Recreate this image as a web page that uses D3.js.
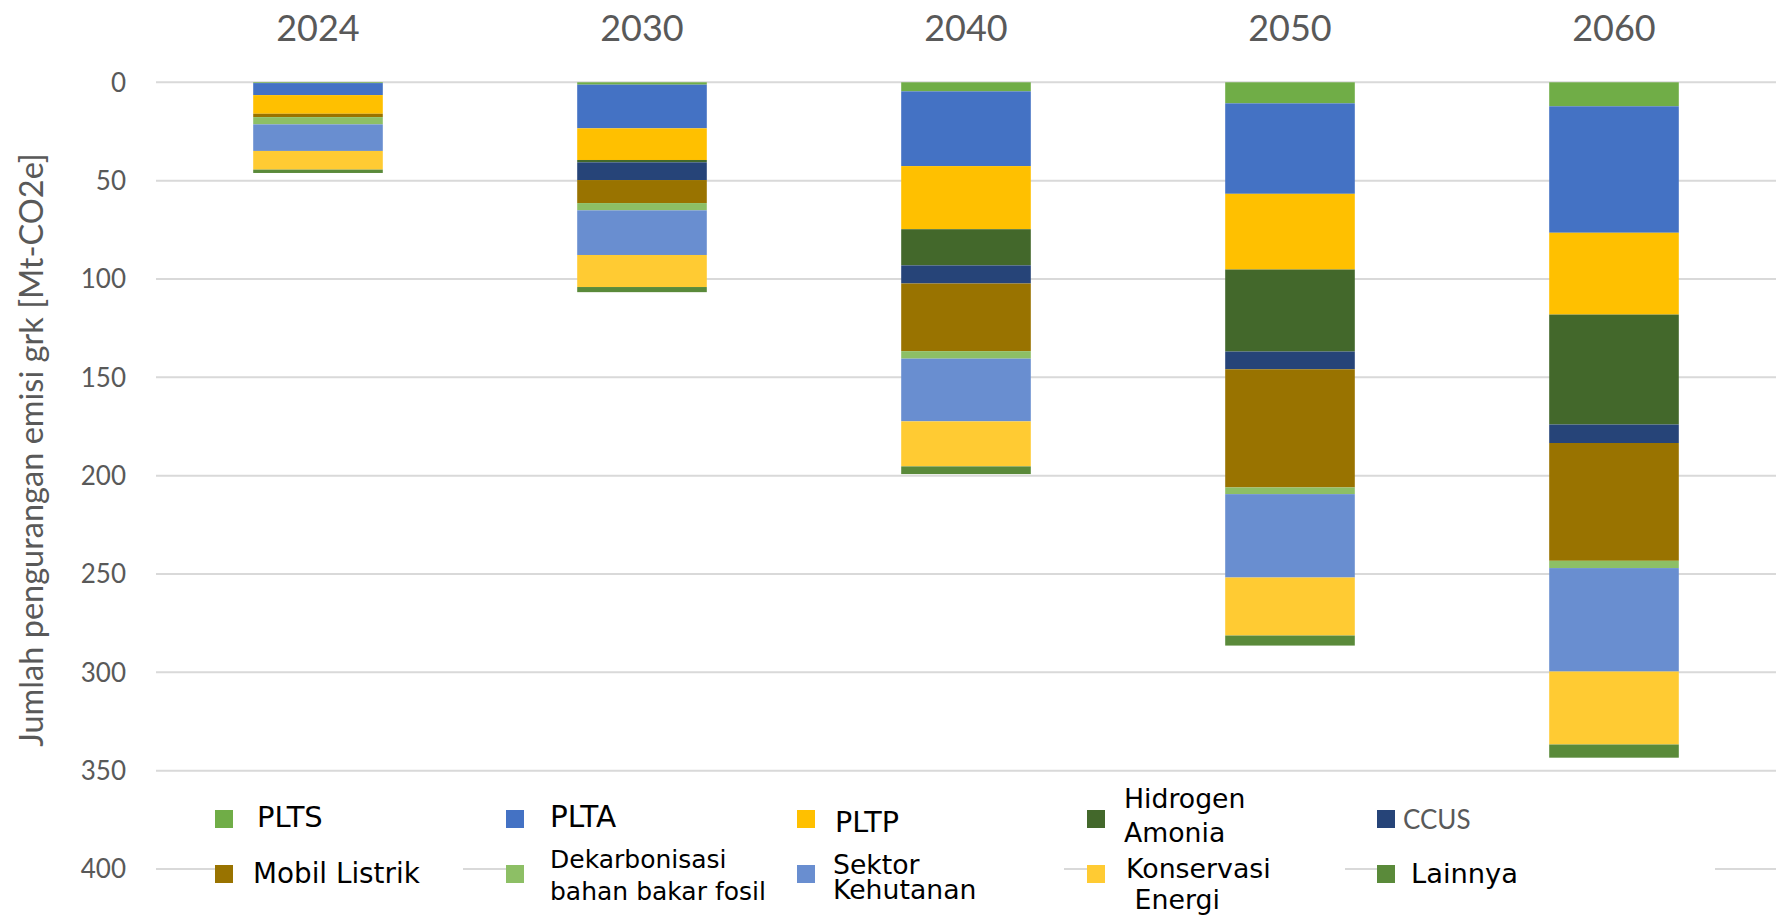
<!DOCTYPE html>
<html>
<head>
<meta charset="utf-8">
<script src="https://cdn.jsdelivr.net/npm/d3@7"></script>
<style>
  html, body { margin: 0; padding: 0; background: #ffffff; }
  svg { display: block; }
</style>
</head>
<body>
<svg id="chart" width="1781" height="915"></svg>
<script>
// ---------------- DATA ----------------
const years = ["2024", "2030", "2040", "2050", "2060"];
const seriesKeys = ["PLTS", "PLTA", "PLTP", "Hidrogen Amonia", "CCUS", "Mobil Listrik",
  "Dekarbonisasi bahan bakar fosil", "Sektor Kehutanan", "Konservasi Energi", "Lainnya"];
const plts          = [0.4, 1.2, 4.6, 10.7, 12.2];
const plta          = [6.1, 22.2, 38.0, 46.0, 64.3];
const pltp          = [9.5, 16.1, 32.1, 38.5, 41.6];
const hidrogen      = [0.0, 1.2, 18.4, 41.7, 55.9];
const ccus          = [0.0, 9.0, 9.2, 9.0, 9.4];
const mobilListrik  = [1.7, 11.7, 34.4, 60.1, 59.9];
const dekarbonisasi = [3.7, 3.7, 3.8, 3.4, 3.7];
const kehutanan     = [13.5, 22.7, 31.9, 42.4, 52.6];
const konservasi    = [9.5, 16.3, 22.9, 29.5, 37.1];
const lainnya       = [1.7, 2.6, 3.9, 5.1, 6.7];
const yTicks = [0, 50, 100, 150, 200, 250, 300, 350, 400];
const yTitle = "Jumlah pengurangan emisi grk [Mt-CO2e]";
const legendLines = [
  ["PLTS"], ["PLTA"], ["PLTP"], ["Hidrogen", "Amonia"], ["CCUS"],
  ["Mobil Listrik"], ["Dekarbonisasi", "bahan bakar fosil"], ["Sektor", "Kehutanan"],
  ["Konservasi", " Energi"], ["Lainnya"]
];

// ---------------- STYLE ----------------
const colors = ["#70AD47", "#4472C4", "#FFC000", "#43682B", "#264478", "#997300",
  "#8DBF65", "#698ED0", "#FFCB33", "#5A8A3A"];
const seriesValues = [plts, plta, pltp, hidrogen, ccus, mobilListrik, dekarbonisasi, kehutanan, konservasi, lainnya];

const rows = years.map((yr, i) => {
  const o = { year: yr };
  seriesKeys.forEach((k, j) => { o[k] = seriesValues[j][i]; });
  return o;
});

const svg = d3.select("#chart");
const gray = "#595959";
const axisFont = "Lato, 'Open Sans', sans-serif";
const legendFont = "'DejaVu Sans', Verdana, sans-serif";

const x = d3.scaleBand().domain(years).range([156, 1776]).paddingInner(0.6).paddingOuter(0.3);
const y = d3.scaleLinear().domain([0, 400]).range([82.3, 869]);

// gridlines
svg.append("g").selectAll("line").data(yTicks).join("line")
  .attr("x1", 156).attr("x2", 1776)
  .attr("y1", d => y(d)).attr("y2", d => y(d))
  .attr("stroke", "#D9D9D9").attr("stroke-width", 2);

// y tick labels
svg.append("g").selectAll("text").data(yTicks).join("text")
  .attr("x", 126).attr("y", d => y(d)).attr("dy", "0.36em")
  .attr("text-anchor", "end")
  .attr("font-family", axisFont).attr("font-size", 26)
  .attr("fill", gray).text(d => d);

// year labels (category axis on top)
svg.append("g").selectAll("text").data(years).join("text")
  .attr("x", d => x(d) + x.bandwidth() / 2).attr("y", 41)
  .attr("text-anchor", "middle")
  .attr("font-family", axisFont).attr("font-size", 36)
  .attr("fill", gray).text(d => d);

// stacked bars
const stack = d3.stack().keys(seriesKeys)(rows);
svg.append("g").selectAll("g").data(stack).join("g")
  .attr("fill", (d, i) => colors[i])
  .selectAll("rect").data(d => d).join("rect")
  .attr("x", d => x(d.data.year))
  .attr("width", x.bandwidth())
  .attr("y", d => y(d[0]))
  .attr("height", d => Math.max(0, y(d[1]) - y(d[0])));

// y title
const title = svg.append("text")
  .attr("font-family", axisFont).attr("font-size", 31)
  .attr("fill", gray).attr("text-anchor", "middle")
  .attr("transform", "translate(43,450) rotate(-90)")
  .text(yTitle);
const tl = title.node().getComputedTextLength();
title.attr("font-size", 31 * 594 / tl);

// legend (layout only)
const legendLayout = [
  { sx: 215, sy: 810, tx: 257, base: [827], fs: 29, bg: 0 },
  { sx: 506, sy: 810, tx: 550, base: [827], fs: 29.5, bg: 0 },
  { sx: 797, sy: 810, tx: 835, base: [832], fs: 28.6, bg: 0 },
  { sx: 1087, sy: 810, tx: 1124, base: [808, 842], fs: 26.7, bg: 0 },
  { sx: 1377, sy: 810, tx: 1403, base: [829], fs: 26, bg: 0, gray: true },
  { sx: 215, sy: 865, tx: 253, base: [883], fs: 27.8, bg: 248 },
  { sx: 506, sy: 865, tx: 550, base: [868, 900], fs: 25, bg: 291 },
  { sx: 797, sy: 865, tx: 833, base: [874, 899], fs: 26.7, bg: 267 },
  { sx: 1087, sy: 865, tx: 1126, base: [878, 909], fs: 26.8, bg: 258 },
  { sx: 1377, sy: 865, tx: 1411, base: [883], fs: 27.3, bg: 338 }
];
const lg = svg.append("g");
legendLayout.forEach((L, i) => {
  const g = lg.append("g");
  if (L.bg > 0) {
    g.append("rect").attr("x", L.sx).attr("y", 860).attr("width", L.bg).attr("height", 20).attr("fill", "#fff");
  }
  g.append("rect").attr("x", L.sx).attr("y", L.sy).attr("width", 18).attr("height", 18).attr("fill", colors[i]);
  legendLines[i].forEach((line, k) => {
    g.append("text")
      .attr("x", L.tx).attr("y", L.base[k])
      .attr("font-family", L.gray ? axisFont : legendFont)
      .attr("font-size", L.fs)
      .attr("fill", L.gray ? gray : "#000")
      .attr("xml:space", "preserve")
      .style("white-space", "pre")
      .text(line);
  });
});
</script>
</body>
</html>
